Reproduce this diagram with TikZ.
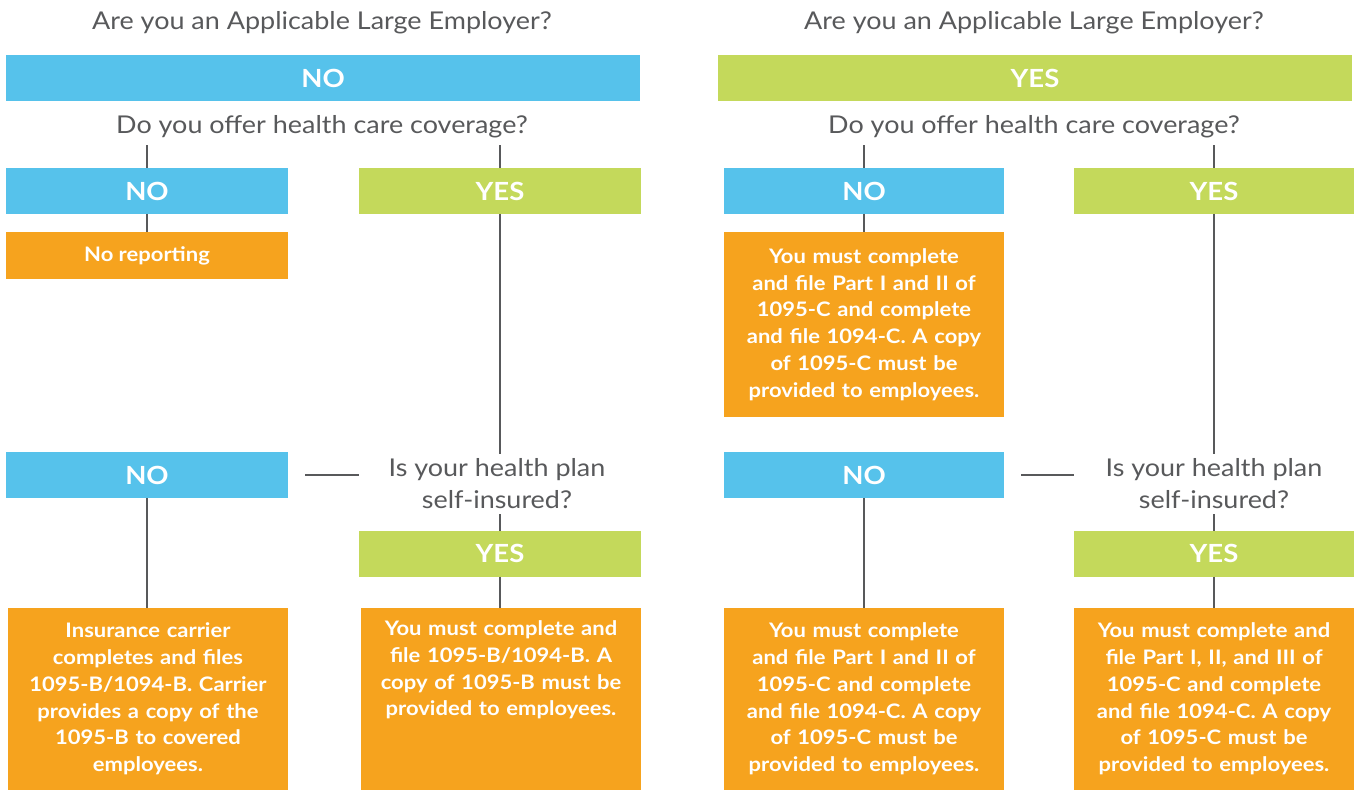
\documentclass[tikz,border=0pt]{standalone}
\usepackage{fontspec}
\setmainfont{Lato}[FakeStretch=1.1]
\usetikzlibrary{calc}
\definecolor{skyblue}{HTML}{56C2EB}
\definecolor{limegreen}{HTML}{C4D95B}
\definecolor{amber}{HTML}{F6A31E}
\definecolor{slate}{HTML}{58595B}
\begin{document}
\begin{tikzpicture}[x=1pt,y=-1pt,
  bar/.style={minimum height=46pt,inner sep=0pt,outer sep=0pt,text=white,
    font=\fontsize{25}{28}\selectfont\bfseries},
  bluebar/.style={bar,fill=skyblue},
  greenbar/.style={bar,fill=limegreen},
  ansbox/.style={fill=amber,inner sep=0pt,outer sep=0pt,text=white,align=center,
    minimum width=280pt,font=\fontsize{20}{26.8}\selectfont\bfseries},
  question/.style={text=slate,align=center,inner sep=0pt,
    font=\fontsize{24.5}{32}\selectfont},
  link/.style={draw=slate,line width=2.6pt}]
\useasboundingbox (0,0) rectangle (1354,791);

% ---------- left tree ----------
\node[question] (titleL) at (322,23) {Are you an Applicable Large Employer?};
\node[bluebar,minimum width=634pt] (topL) at (323,78.5) {NO};
\node[question,minimum height=36pt] (qcovL) at (322,127) {Do you offer health care coverage?};
\node[bluebar,minimum width=282pt] (noAL) at (147,191) {NO};
\node[greenbar,minimum width=282pt] (yesAL) at (500,191) {YES};
\node[ansbox,minimum height=47pt,minimum width=282pt] (norep) at (147,255.5) {No reporting};
\node[bluebar,minimum width=282pt] (noBL) at (147,475) {NO};
\node[question,minimum height=60pt] (qselfL) at (497,484) {Is your health plan\\self-insured?};
\node[greenbar,minimum width=282pt] (yesBL) at (500,553.5) {YES};
\node[ansbox,minimum height=182pt,text width=270pt] (carrier) at (148,699)
  {Insurance carrier\\completes and files\\1095-B/1094-B. Carrier\\provides a copy of the\\1095-B to covered\\employees.};
\node[ansbox,minimum height=182pt,text width=270pt] (fileB) at (501,699)
  {You must complete and\\file 1095-B/1094-B. A\\copy of 1095-B must be\\provided to employees.\\\strut\\\strut};

\draw[link] (noAL.north) -- (noAL.north |- qcovL.south);
\draw[link] (yesAL.north) -- (yesAL.north |- qcovL.south);
\draw[link] (noAL.south) -- (norep.north);
\draw[link] (yesAL.south) -- (yesAL.south |- qselfL.north);
\draw[link] (yesBL.north) -- (yesBL.north |- qselfL.south);
\draw[link] (yesBL.south) -- (yesBL.south |- fileB.north);
\draw[link] (noBL.south) -- (noBL.south |- carrier.north);
\draw[link] ([xshift=17pt]noBL.east) -- (noBL.east -| yesBL.west);

% ---------- right tree ----------
\node[question] (titleR) at (1034,23) {Are you an Applicable Large Employer?};
\node[greenbar,minimum width=634pt] (topR) at (1035,78.5) {YES};
\node[question,minimum height=36pt] (qcovR) at (1034,127) {Do you offer health care coverage?};
\node[bluebar,minimum width=280pt] (noAR) at (864,191) {NO};
\node[greenbar,minimum width=280pt] (yesAR) at (1214,191) {YES};
\node[ansbox,minimum height=185pt,text width=270pt] (fileC1) at (864,324.5)
  {You must complete\\and file Part I and II of\\1095-C and complete\\and file 1094-C. A copy\\of 1095-C must be\\provided to employees.};
\node[bluebar,minimum width=280pt] (noBR) at (864,475) {NO};
\node[question,minimum height=60pt] (qselfR) at (1214,484) {Is your health plan\\self-insured?};
\node[greenbar,minimum width=280pt] (yesBR) at (1214,553.5) {YES};
\node[ansbox,minimum height=182pt,text width=270pt] (fileC2) at (864,699)
  {You must complete\\and file Part I and II of\\1095-C and complete\\and file 1094-C. A copy\\of 1095-C must be\\provided to employees.};
\node[ansbox,minimum height=182pt,text width=270pt] (fileC3) at (1214,699)
  {You must complete and\\file Part I, II, and III of\\1095-C and complete\\and file 1094-C. A copy\\of 1095-C must be\\provided to employees.};

\draw[link] (noAR.north) -- (noAR.north |- qcovR.south);
\draw[link] (yesAR.north) -- (yesAR.north |- qcovR.south);
\draw[link] (noAR.south) -- (fileC1.north);
\draw[link] (yesAR.south) -- (yesAR.south |- qselfR.north);
\draw[link] (yesBR.north) -- (yesBR.north |- qselfR.south);
\draw[link] (yesBR.south) -- (fileC3.north);
\draw[link] (noBR.south) -- (fileC2.north);
\draw[link] ([xshift=17pt]noBR.east) -- (noBR.east -| yesBR.west);
\end{tikzpicture}
\end{document}
